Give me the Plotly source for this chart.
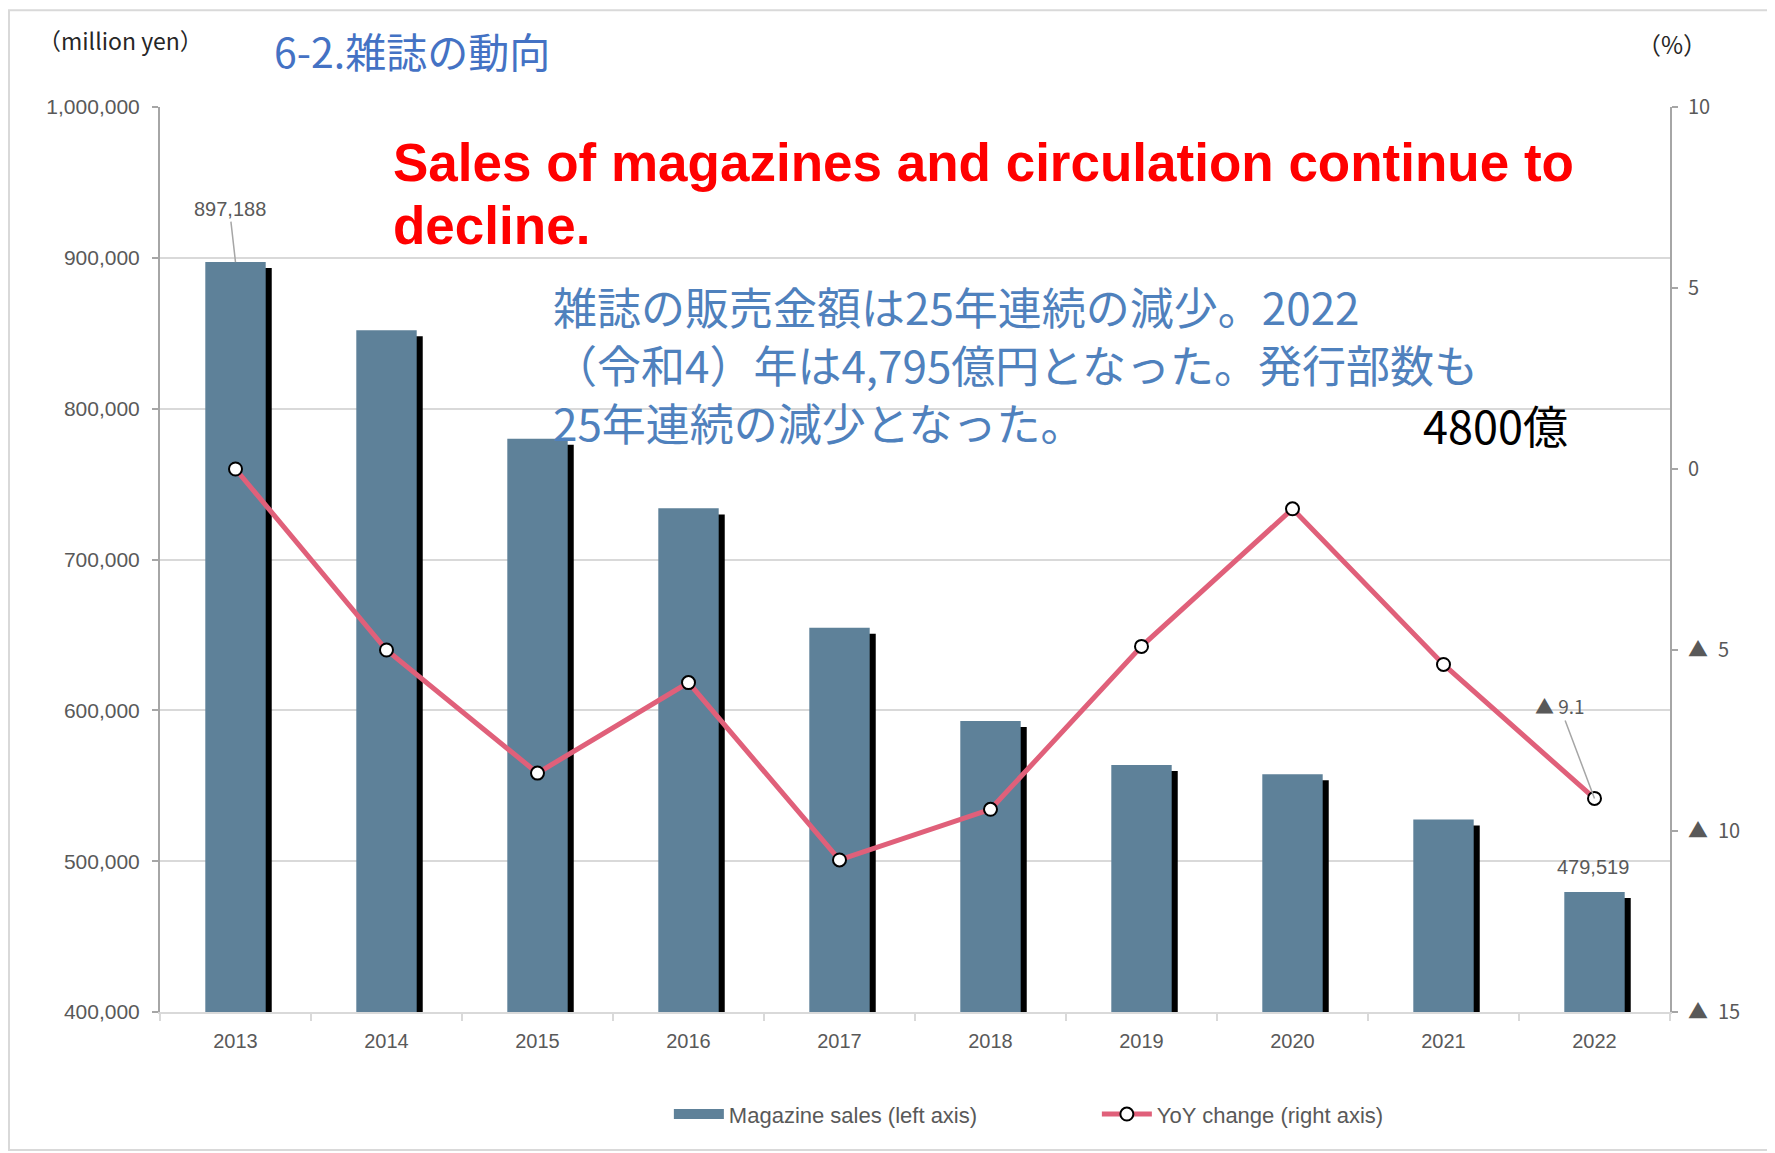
import plotly.graph_objects as go

years = ["2013", "2014", "2015", "2016", "2017", "2018", "2019", "2020", "2021", "2022"]
sales = [897188, 852000, 780100, 733900, 654800, 593000, 563700, 557600, 527600, 479519]
yoy = [0.0, -5.0, -8.4, -5.9, -10.8, -9.4, -4.9, -1.1, -5.4, -9.1]

left_ticks = [400000, 500000, 600000, 700000, 800000, 900000, 1000000]
right_ticks = [-15, -10, -5, 0, 5, 10]
right_tick_text = ["▲\u200215", "▲\u200210", "▲\u20025", "0", "5", "10"]

BAR = "#5e8199"
LINE = "#e0607a"
GRID = "#d9d9d9"
AXIS = "#a6a6a6"
TXT = "#595959"
FONT = "Liberation Sans, Arial, sans-serif"
JFONT = "Noto Sans CJK JP, sans-serif"

shadow_drop = 4000  # shadow sits a few pixels below each bar top
shadow = [v - shadow_drop for v in sales]

fig = go.Figure()
fig.add_trace(go.Bar(
    x=years, y=shadow, marker=dict(color="black", line=dict(width=0)),
    width=0.4, offset=-0.16, showlegend=False, hoverinfo="skip",
))
fig.add_trace(go.Bar(
    x=years, y=sales, name="Magazine sales (left axis)",
    marker=dict(color=BAR, line=dict(width=0)),
    width=0.4, offset=-0.2, showlegend=False,
))
# legend entry drawn as a wide patch, like the original
fig.add_trace(go.Scatter(
    x=[None], y=[None], name="Magazine sales (left axis)", mode="lines",
    line=dict(color=BAR, width=13), hoverinfo="skip",
))
fig.add_trace(go.Scatter(
    x=years, y=yoy, yaxis="y2", name="YoY change (right axis)",
    mode="lines+markers",
    line=dict(color=LINE, width=5),
    marker=dict(symbol="circle", size=13, color="white", line=dict(color="black", width=2)),
))

fig.update_layout(
    width=1767, height=1145,
    margin=dict(l=152, r=105, t=99, b=141),
    paper_bgcolor="white", plot_bgcolor="white",
    barmode="overlay",
    font=dict(family=FONT, color=TXT, size=19),
    showlegend=True,
    legend=dict(orientation="h", x=0.337, xanchor="left", y=-0.113, yanchor="middle",
                font=dict(size=22, color=TXT, family=FONT), itemwidth=50,
                traceorder="normal", entrywidth=363, bgcolor="rgba(0,0,0,0)"),
    xaxis=dict(
        type="category", showgrid=False, showline=True, linecolor=GRID, linewidth=2,
        ticks="outside", tickson="boundaries", ticklen=7, tickcolor=GRID, tickwidth=2,
        tickfont=dict(size=20, color=TXT), range=[-0.5, 9.5], ticklabelstandoff=10,
    ),
    yaxis=dict(
        range=[400000, 1000000], tickvals=left_ticks, tickformat=",",
        showgrid=True, gridcolor=GRID, gridwidth=2,
        showline=True, linecolor=AXIS, linewidth=2,
        ticks="outside", ticklen=6, tickcolor=AXIS, tickwidth=2,
        tickfont=dict(size=21, color=TXT), zeroline=False, ticklabelstandoff=8,
    ),
    yaxis2=dict(
        overlaying="y", side="right", range=[-15, 10],
        tickvals=right_ticks, ticktext=right_tick_text,
        showgrid=False, showline=True, linecolor=AXIS, linewidth=2,
        ticks="outside", ticklen=6, tickcolor=AXIS, tickwidth=2,
        tickfont=dict(size=20, color=TXT, family=JFONT), zeroline=False, ticklabelstandoff=6,
    ),
)

# frame around the whole chart
fig.add_shape(type="rect", xref="paper", yref="paper",
              x0=-0.1, x1=1.0675, y0=-0.1525, y1=1.107,
              line=dict(color="#d9d9d9", width=2), fillcolor="rgba(0,0,0,0)", layer="below")

ann = []
ann.append(dict(xref="paper", yref="paper", x=-0.082, y=1.074, xanchor="left", yanchor="middle",
                text="（million yen）", showarrow=False,
                font=dict(size=23, color="#262626", family=JFONT)))
ann.append(dict(xref="paper", yref="paper", x=0.0742, y=1.063, xanchor="left", yanchor="middle",
                text="6-2.雑誌の動向", showarrow=False,
                font=dict(size=41, color="#4472c4", family=JFONT)))
ann.append(dict(xref="paper", yref="paper", x=0.977, y=1.0707, xanchor="left", yanchor="middle",
                text="（%）", showarrow=False,
                font=dict(size=24, color="#262626", family=JFONT)))

red_lines = ["Sales of magazines and circulation continue to", "decline."]
for i, t in enumerate(red_lines):
    ann.append(dict(xref="paper", yref="paper", x=0.1529, y=0.9392 - i * 0.0696,
                    xanchor="left", yanchor="middle", text=f"<b>{t}</b>", showarrow=False,
                    font=dict(size=53, color="#ff0000", family=FONT)))

blue_lines = ["雑誌の販売金額は25年連続の減少。2022",
              "（令和4）年は4,795億円となった。発行部数も",
              "25年連続の減少となった。"]
for i, t in enumerate(blue_lines):
    ann.append(dict(xref="paper", yref="paper", x=0.2589, y=0.7801 - i * 0.0641,
                    xanchor="left", yanchor="middle", text=t, showarrow=False,
                    font=dict(size=44, color="#4f81bd", family=JFONT)))

ann.append(dict(xref="paper", yref="paper", x=0.8351, y=0.6497, xanchor="left", yanchor="middle",
                text="4800億", showarrow=False,
                font=dict(size=45, color="black", family=JFONT)))

# data labels (category axis -> use category index)
first, last = 0, len(years) - 1
ann.append(dict(x=first, y=sales[first], xref="x", yref="y", text=f"{sales[first]:,}",
                showarrow=True, arrowhead=0, arrowwidth=1.5, arrowcolor="#a6a6a6",
                ax=-6, ay=-53, font=dict(size=20, color=TXT)))
ann.append(dict(x=last, y=sales[last], xref="x", yref="y", text=f"{sales[last]:,}",
                showarrow=False, yanchor="bottom", yshift=12, xshift=-2,
                font=dict(size=20, color=TXT)))
ann.append(dict(x=last, y=yoy[last], xref="x", yref="y2",
                text=f"▲ {abs(yoy[last]):.1f}",
                showarrow=True, arrowhead=0, arrowwidth=1.5, arrowcolor="#a6a6a6",
                ax=-35, ay=-93, font=dict(size=19, color=TXT, family=JFONT)))

fig.update_layout(annotations=ann)
fig.write_html("out.html")
